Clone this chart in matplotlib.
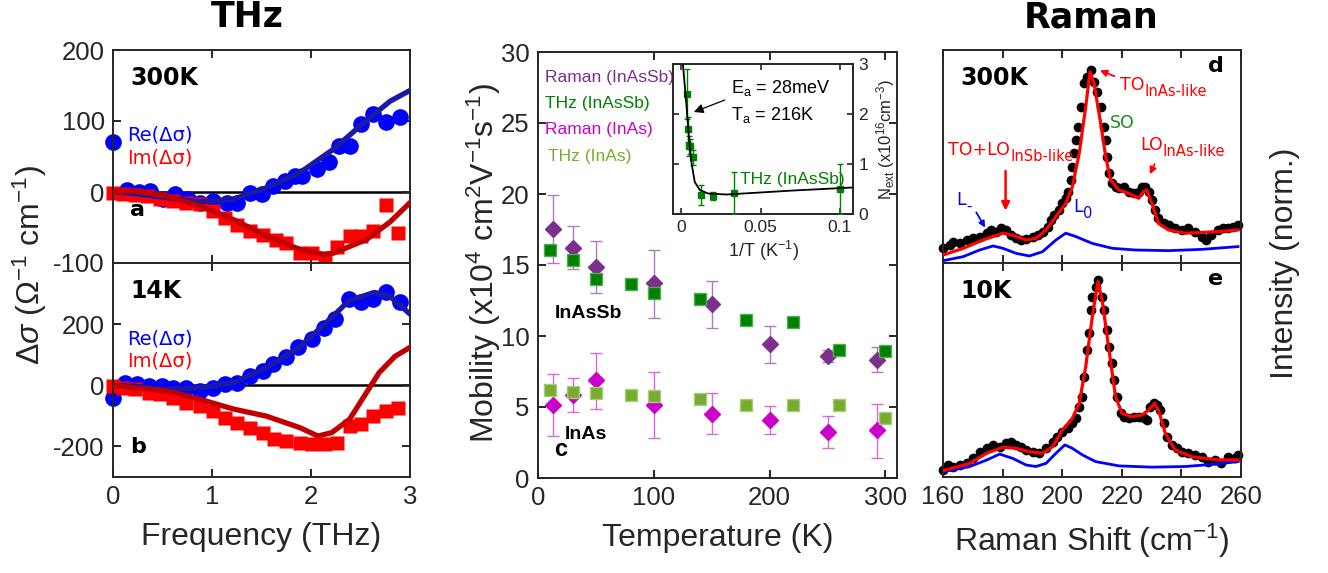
import matplotlib.pyplot as plt
import numpy as np

plt.rcParams['font.family'] = ['Liberation Sans', 'DejaVu Sans']
plt.rcParams['mathtext.fontset'] = 'custom'
plt.rcParams['mathtext.rm'] = 'Liberation Sans'
plt.rcParams['mathtext.it'] = 'Liberation Sans:italic'
plt.rcParams['mathtext.bf'] = 'Liberation Sans:bold'
plt.rcParams['axes.unicode_minus'] = False

FRAME = '#262626'

# ---------------- THz panels (a: 300K, b: 14K) ----------------
re300_f = [0.0, 0.14, 0.26, 0.37, 0.51, 0.63, 0.76, 0.88, 1.01, 1.15, 1.25, 1.38, 1.50,
           1.62, 1.74, 1.84, 1.91, 2.06, 2.18, 2.28, 2.39, 2.51, 2.63, 2.76, 2.90]
re300 = [71, 3, 0.5, 1.4, -10, -3, -10, -15, -13, -15, -15, -1, -3,
         8.5, 15.6, 22.7, 22.7, 32, 41.6, 65, 65, 96, 110, 98, 105]
im300_f = [0.0, 0.10, 0.22, 0.34, 0.47, 0.61, 0.74, 0.88, 1.01, 1.13, 1.25, 1.38, 1.52,
           1.65, 1.75, 1.89, 2.01, 2.14, 2.26, 2.39, 2.51, 2.63, 2.76, 2.88]
im300 = [-2, -3.3, -4.7, -5.4, -9.4, -12.7, -15, -17.5, -27, -36, -46, -55, -60,
         -67, -72, -86, -86, -93, -77, -62, -62, -55, -18, -58]
fit_re300_f = [0.0, 0.21, 0.55, 0.88, 1.22, 1.55, 1.89, 2.23, 2.56, 2.8, 3.0]
fit_re300 = [0, -2, -8, -14, -10, 6, 27.5, 60.6, 100.7, 128, 143]
fit_im300_f = [0.0, 0.21, 0.55, 0.88, 1.22, 1.55, 1.89, 2.13, 2.23, 2.56, 2.8, 3.0]
fit_im300 = [0, 1.4, -6, -20, -39, -62, -81, -88, -86, -67, -42, -15]

re14_f = [0.0, 0.12, 0.24, 0.36, 0.49, 0.61, 0.74, 0.88, 1.01, 1.13, 1.25, 1.38, 1.52,
          1.62, 1.75, 1.87, 2.01, 2.13, 2.24, 2.38, 2.50, 2.63, 2.76, 2.90]
re14 = [-40, 9, 3, -2, -2, -8, -8, -19, -8, 3, 9, 30, 47,
        69, 91, 124, 151, 189, 216, 282, 271, 282, 304, 271]
im14_f = [0.0, 0.10, 0.22, 0.36, 0.47, 0.61, 0.74, 0.88, 1.01, 1.13, 1.25, 1.38, 1.52,
          1.63, 1.75, 1.89, 2.01, 2.14, 2.26, 2.39, 2.51, 2.63, 2.76, 2.88]
im14 = [-2, -8, -13, -24, -30, -40, -57, -68, -84, -106, -122, -139, -155,
        -177, -183, -188, -193, -193, -188, -133, -128, -101, -84, -73]
fit_re14_f = [0.0, 0.21, 0.55, 0.88, 1.22, 1.55, 1.88, 2.21, 2.38, 2.64, 2.8, 3.0]
fit_re14 = [0, -3, -13, -8, 9, 58, 124, 222, 276, 304, 290, 233]
fit_im14_f = [0.0, 0.21, 0.55, 0.88, 1.22, 1.55, 1.89, 2.07, 2.21, 2.39, 2.56, 2.69, 2.85, 3.0]
fit_im14 = [0, -8, -19, -46, -78, -101, -139, -166, -155, -111, -24, 42, 95, 124]

# ---------------- Mobility panel (c) ----------------
T_thz = [10, 30, 50, 80, 100, 140, 180, 220, 260, 300]
mu_thz_sb = [16.04, 15.37, 14.04, 13.69, 13.03, 12.58, 11.11, 10.99, 9.04, 8.94]
mu_thz_as = [6.18, 6.06, 5.99, 5.82, 5.75, 5.59, 5.17, 5.17, 5.12, 4.25]
T_ram = [13, 30, 50, 100, 150, 200, 250, 293]
mu_ram_sb = [17.51, 16.18, 14.86, 13.73, 12.23, 9.42, 8.57, 8.34]
mu_ram_sb_lo = [15.14, 14.70, 13.03, 11.30, 10.59, 8.13, 8.17, 7.44]
mu_ram_sb_hi = [19.96, 17.75, 16.69, 16.08, 13.87, 10.68, 9.03, 9.24]
mu_ram_as = [5.12, 5.82, 6.88, 5.12, 4.54, 4.11, 3.24, 3.36]
mu_ram_as_lo = [2.96, 4.65, 4.84, 2.85, 3.13, 3.13, 2.14, 1.44]
mu_ram_as_hi = [7.35, 7.07, 8.83, 7.46, 5.99, 5.07, 4.35, 5.24]

# inset: carrier density vs 1/T
invT = [0.00333, 0.00385, 0.00455, 0.00556, 0.00714, 0.0125, 0.02, 0.0333, 0.1]
n_ext = [2.41, 1.70, 1.37, 1.36, 1.14, 0.38, 0.36, 0.42, 0.51]
n_err = [0.5, 0.25, 0.2, 0.15, 0.15, 0.2, 0.08, 0.42, 0.5]
fit_invT = [0.0010, 0.0032, 0.0048, 0.0063, 0.0084, 0.0116, 0.0168, 0.0285, 0.0496, 0.0706, 0.108]
fit_n = [2.98, 2.17, 1.50, 1.04, 0.64, 0.48, 0.41, 0.39, 0.43, 0.47, 0.53]

# ---------------- Raman panels (d: 300K, e: 10K) ----------------
w300 = [160.1, 162.3, 163.4, 165.7, 167.9, 170.1, 172.3, 174.6, 176.2, 177.9, 179.6, 181.2,
        182.9, 184.6, 186.2, 187.9, 190.1, 191.8, 193.4, 195.1, 196.2, 197.3, 199.0, 200.1,
        201.2, 201.8, 202.9, 203.4, 204.0, 204.6, 205.4, 206.2, 207.3, 208.4, 209.6, 210.7,
        211.8, 212.9, 214.0, 214.6, 215.1, 215.7, 216.8, 217.9, 219.0, 220.7, 222.3, 224.0,
        225.7, 226.8, 227.9, 229.0, 230.1, 231.2, 232.3, 234.0, 235.7, 237.9, 240.1, 242.3,
        244.6, 246.8, 248.4, 250.1, 252.3, 254.0, 255.7, 257.3, 259.0]
i300 = [0.069, 0.085, 0.100, 0.092, 0.108, 0.116, 0.124, 0.140, 0.155, 0.147, 0.163, 0.155,
        0.131, 0.116, 0.108, 0.111, 0.124, 0.131, 0.147, 0.171, 0.202, 0.225, 0.249, 0.280,
        0.304, 0.335, 0.390, 0.452, 0.515, 0.577, 0.640, 0.734, 0.843, 0.875, 0.906, 0.851,
        0.804, 0.734, 0.640, 0.577, 0.499, 0.421, 0.374, 0.358, 0.351, 0.358, 0.335, 0.327,
        0.335, 0.358, 0.358, 0.335, 0.296, 0.249, 0.210, 0.186, 0.178, 0.163, 0.155, 0.163,
        0.147, 0.124, 0.108, 0.131, 0.155, 0.163, 0.163, 0.171, 0.178]
fit300_w = [160.1, 166.8, 173.4, 180.1, 183.4, 187.9, 191.2, 194.6, 197.9, 201.2, 203.4, 205.7,
            207.9, 209.3, 210.7, 212.9, 214.6, 216.2, 219.0, 222.3, 225.7, 227.3, 228.4, 230.1,
            232.3, 235.7, 241.2, 252.3, 259.0]
fit300 = [0.038, 0.069, 0.108, 0.140, 0.131, 0.108, 0.116, 0.155, 0.218, 0.280, 0.358, 0.515,
          0.734, 0.898, 0.843, 0.656, 0.499, 0.390, 0.343, 0.327, 0.304, 0.335, 0.343, 0.280,
          0.186, 0.155, 0.140, 0.147, 0.155]
lo300_w = [160.1, 166.8, 172.3, 176.8, 180.1, 184.6, 189.0, 193.4, 197.9, 201.2, 204.6, 210.1,
           216.8, 224.6, 235.7, 246.8, 259.0]
lo300 = [0.011, 0.030, 0.061, 0.080, 0.069, 0.045, 0.033, 0.053, 0.108, 0.140, 0.124, 0.092,
         0.069, 0.061, 0.058, 0.064, 0.077]

w10 = [160.1, 161.8, 163.4, 165.7, 167.9, 170.1, 172.3, 174.6, 176.8, 179.0, 181.2, 182.9,
       184.6, 186.2, 187.9, 190.1, 192.3, 194.6, 196.8, 198.4, 200.1, 201.8, 203.4, 204.6,
       205.7, 206.6, 207.3, 208.4, 209.0, 209.6, 210.1, 211.2, 212.1, 213.2, 214.0, 215.1,
       215.7, 216.6, 217.3, 218.4, 219.6, 220.7, 222.3, 224.0, 225.7, 227.3, 228.4, 229.6,
       230.7, 231.8, 232.9, 234.0, 235.1, 236.8, 238.4, 240.1, 242.3, 244.6, 246.8, 249.0,
       251.2, 253.4, 255.7, 257.9, 259.0]
i10 = [0.033, 0.056, 0.049, 0.056, 0.064, 0.087, 0.118, 0.134, 0.150, 0.142, 0.157, 0.165,
       0.150, 0.142, 0.126, 0.118, 0.111, 0.134, 0.165, 0.189, 0.212, 0.227, 0.251, 0.274,
       0.329, 0.375, 0.469, 0.593, 0.672, 0.780, 0.843, 0.889, 0.921, 0.843, 0.780, 0.687,
       0.609, 0.531, 0.453, 0.375, 0.297, 0.282, 0.274, 0.282, 0.282, 0.274, 0.266, 0.329,
       0.344, 0.336, 0.313, 0.251, 0.189, 0.150, 0.134, 0.118, 0.111, 0.103, 0.095, 0.072,
       0.080, 0.064, 0.095, 0.087, 0.103]
fit10_w = [160.1, 169.0, 174.6, 180.1, 184.6, 189.0, 193.4, 196.8, 200.1, 203.4, 205.7, 207.9,
           210.1, 212.0, 213.4, 215.7, 217.9, 220.1, 223.4, 226.8, 229.0, 231.0, 232.3, 234.6,
           237.9, 243.4, 252.3, 259.0]
fit10 = [0.030, 0.064, 0.111, 0.139, 0.134, 0.118, 0.111, 0.142, 0.220, 0.274, 0.344, 0.516,
         0.749, 0.913, 0.827, 0.593, 0.375, 0.297, 0.282, 0.290, 0.313, 0.344, 0.313, 0.204,
         0.126, 0.095, 0.080, 0.080]
lo10_w = [160.1, 169.0, 174.6, 179.0, 183.4, 187.9, 191.2, 194.6, 197.9, 200.9, 203.4, 206.8,
          211.2, 219.0, 230.1, 241.2, 252.3, 259.0]
lo10 = [0.025, 0.049, 0.079, 0.107, 0.087, 0.056, 0.049, 0.064, 0.111, 0.150, 0.134, 0.103,
        0.072, 0.052, 0.046, 0.049, 0.061, 0.072]

W, H = 1328, 573
fig = plt.figure(figsize=(W / 100, H / 100), dpi=100)
LABEL = 23
TICK = 18.5


def box(px_left, px_top, px_right, px_bottom):
    return [px_left / W, 1 - px_bottom / H, (px_right - px_left) / W, (px_bottom - px_top) / H]


def style(ax, size=TICK):
    for s in ax.spines.values():
        s.set_linewidth(1.4)
        s.set_color(FRAME)
    ax.tick_params(direction='in', length=6, width=1.4, colors=FRAME, labelcolor=FRAME,
                   top=True, right=True, labelsize=size, pad=6)


def sub_label(ax, x, y, main, sub, color, size, transform):
    t = ax.text(x, y, main, color=color, fontsize=size, transform=transform,
                ha='left', va='center', family='DejaVu Sans')
    ax.annotate(sub, xy=(1, 0.12), xycoords=t, ha='left', va='center', color=color,
                fontsize=size * 0.85, family='DejaVu Sans')
    return t


# ---- THz panels ----
ax_a = fig.add_axes(box(113, 50, 410, 263))
ax_b = fig.add_axes(box(113, 263, 410, 477))
panels = [(ax_a, re300_f, re300, im300_f, im300, fit_re300_f, fit_re300, fit_im300_f, fit_im300,
           (-100, 200), [-100, 0, 100, 200], '300K', 'a', 0.60, 0.493),
          (ax_b, re14_f, re14, im14_f, im14, fit_re14_f, fit_re14, fit_im14_f, fit_im14,
           (-300, 400), [-200, 0, 200], '14K', 'b', 0.645, 0.542)]
for (ax, rf, rv, imf, imv, frf, frv, fif, fiv, yl, yt, temp, lab, yre, yim) in panels:
    style(ax)
    ax.axhline(0, color='black', lw=1.8, zorder=1)
    ax.plot(rf, rv, 'o', color='#0000FF', ms=12, mec='none', clip_on=False, zorder=2)
    ax.plot(imf, imv, 's', color='#FF0000', ms=9.5, mec='none', clip_on=False, zorder=2)
    ax.plot(frf, frv, '-', color='#1A1AA6', lw=3.8, zorder=3)
    ax.plot(fif, fiv, '-', color='#C00000', lw=3.8, zorder=3)
    ax.set_xlim(0, 3)
    ax.set_ylim(*yl)
    ax.set_yticks(yt)
    ax.set_xticks([0, 1, 2, 3])
    ax.text(0.057, 0.87, temp, transform=ax.transAxes, fontsize=17, fontweight='bold',
            family='DejaVu Sans', va='center')
    ax.text(0.057, 0.25 if lab == 'a' else 0.14, lab, transform=ax.transAxes, fontsize=16,
            fontweight='bold', family='DejaVu Sans', va='center')
    ax.text(0.047, yre, 'Re(Δσ)', transform=ax.transAxes, color='#0000FF', fontsize=14,
            family='DejaVu Sans', va='center')
    ax.text(0.047, yim, 'Im(Δσ)', transform=ax.transAxes, color='#FF0000', fontsize=14,
            family='DejaVu Sans', va='center')
ax_a.tick_params(labelbottom=False)
ax_b.set_xlabel('Frequency (THz)', fontsize=LABEL, color=FRAME, labelpad=9)
fig.text(30 / W, 1 - 265 / H, r'$\Delta\sigma$ ($\Omega^{-1}$ cm$^{-1}$)', rotation=90,
         fontsize=LABEL, color=FRAME, ha='center', va='center')
fig.text(247 / W, 1 - 17 / H, 'THz', fontsize=25, fontweight='bold', family='DejaVu Sans',
         ha='center', va='center')

# ---- Mobility panel ----
PURPLE, DGREEN, MAGENTA, LGREEN = '#7E2F8E', '#008000', '#CC00CC', '#77AC30'
ax_c = fig.add_axes(box(538, 52, 897, 478))
style(ax_c)
sb_lo = np.array(mu_ram_sb) - np.array(mu_ram_sb_lo)
sb_hi = np.array(mu_ram_sb_hi) - np.array(mu_ram_sb)
as_lo = np.array(mu_ram_as) - np.array(mu_ram_as_lo)
as_hi = np.array(mu_ram_as_hi) - np.array(mu_ram_as)
ax_c.errorbar(T_ram, mu_ram_sb, yerr=[sb_lo, sb_hi], fmt='D', color=PURPLE, ms=8.5, mec=PURPLE,
              ecolor='#B07BBE', elinewidth=1, capsize=4, clip_on=False, zorder=3)
ax_c.errorbar(T_thz, mu_thz_sb, yerr=0.3, fmt='s', color=DGREEN, ms=8, mec='#4FAF4F',
              ecolor=DGREEN, elinewidth=1, capsize=4, clip_on=False, zorder=3)
ax_c.errorbar(T_ram, mu_ram_as, yerr=[as_lo, as_hi], fmt='D', color=MAGENTA, ms=8.5, mec=MAGENTA,
              ecolor='#DD66DD', elinewidth=1, capsize=4, clip_on=False, zorder=3)
ax_c.errorbar(T_thz, mu_thz_as, yerr=0.25, fmt='s', color=LGREEN, ms=8, mec='#A5CC7A',
              ecolor=LGREEN, elinewidth=1, capsize=4, clip_on=False, zorder=3)
ax_c.set_xlim(0, 310)
ax_c.set_ylim(0, 30)
ax_c.set_xticks([0, 100, 200, 300])
ax_c.set_yticks(range(0, 31, 5))
ax_c.set_xlabel('Temperature (K)', fontsize=LABEL, color=FRAME, labelpad=9)
fig.text(484 / W, 1 - 263 / H, r'Mobility (x10$^4$ cm$^2$V$^{-1}$s$^{-1}$)', rotation=90,
         fontsize=LABEL, color=FRAME, ha='center', va='center')
for txt, col, yy, xx in [('Raman (InAsSb)', PURPLE, 0.941, 0.02), ('THz (InAsSb)', DGREEN, 0.880, 0.02),
                         ('Raman (InAs)', MAGENTA, 0.817, 0.02), ('THz (InAs)', LGREEN, 0.754, 0.028)]:
    ax_c.text(xx, yy, txt, color=col, fontsize=12.5, transform=ax_c.transAxes, va='center')
ax_c.text(0.047, 0.387, 'InAsSb', fontsize=14, fontweight='bold', transform=ax_c.transAxes,
          va='center')
ax_c.text(0.075, 0.102, 'InAs', fontsize=14, fontweight='bold', transform=ax_c.transAxes,
          va='center')
ax_c.text(0.045, 0.068, 'c', fontsize=17, fontweight='bold', transform=ax_c.transAxes,
          va='center')

# inset
ax_in = fig.add_axes(box(673, 64, 853, 214))
style(ax_in, size=12.5)
ax_in.tick_params(length=4, width=1.2, labelleft=False, labelright=True, pad=4)
ax_in.errorbar(invT, n_ext, yerr=n_err, fmt='s', color=DGREEN, ms=5, ecolor=DGREEN,
               elinewidth=1, capsize=2.5, zorder=3)
ax_in.plot(fit_invT, fit_n, '-', color='black', lw=1.3, zorder=4)
ax_in.set_xlim(-0.0053, 0.1082)
ax_in.set_ylim(0, 2.98)
ax_in.set_xticks([0, 0.05, 0.1])
ax_in.set_xticklabels(['0', '0.05', '0.1'])
ax_in.set_yticks([0, 1, 2, 3])
ax_in.set_xlabel(r'1/T (K$^{-1}$)', fontsize=13, color=FRAME, labelpad=3)
ax_in.yaxis.set_label_position('right')
ax_in.set_ylabel(r'N$_{\mathregular{ext}}$ (x10$^{16}$cm$^{-3}$)', fontsize=12, color=FRAME,
                 labelpad=4)
ax_in.text(0.32, 0.84, r'E$_{\mathregular{a}}$ = 28meV', transform=ax_in.transAxes, fontsize=13,
           va='center')
ax_in.text(0.32, 0.66, r'T$_{\mathregular{a}}$ = 216K', transform=ax_in.transAxes, fontsize=13,
           va='center')
ax_in.annotate('', xy=(0.0062, 2.02), xytext=(0.029, 2.3),
               arrowprops=dict(arrowstyle='-|>', color='black', lw=0.9, mutation_scale=14))
ax_in.text(0.37, 0.23, 'THz (InAsSb)', color=DGREEN, fontsize=12.5, transform=ax_in.transAxes,
           va='center')

# ---- Raman panels ----
ax_d = fig.add_axes(box(943, 50, 1241, 263))
ax_e = fig.add_axes(box(943, 263, 1241, 477))
for ax, w, it, fw, fv, lw_, lv, temp, lab in [(ax_d, w300, i300, fit300_w, fit300, lo300_w, lo300, '300K', 'd'),
                                              (ax_e, w10, i10, fit10_w, fit10, lo10_w, lo10, '10K', 'e')]:
    style(ax)
    ax.plot(w, it, 'o', color='black', ms=7, mec='none', clip_on=False, zorder=2)
    ax.plot(lw_, lv, '-', color='#0000FF', lw=2.0, zorder=3)
    ax.plot(fw, fv, '-', color='#FF0000', lw=2.3, zorder=4)
    ax.set_xlim(160, 260)
    ax.set_ylim(0, 1)
    ax.set_xticks(range(160, 261, 20))
    ax.set_yticks([])
    ax.text(0.057, 0.87, temp, transform=ax.transAxes, fontsize=17, fontweight='bold',
            family='DejaVu Sans', va='center')
    ax.text(0.915, 0.925, lab, transform=ax.transAxes, fontsize=16, fontweight='bold',
            family='DejaVu Sans', va='center', ha='center')
ax_d.tick_params(labelbottom=False)
ax_e.set_xlabel(r'Raman Shift (cm$^{-1}$)', fontsize=LABEL, color=FRAME, labelpad=9)
fig.text(1285 / W, 1 - 263 / H, 'Intensity (norm.)', rotation=90, fontsize=LABEL, color=FRAME,
         ha='center', va='center')
fig.text(1091 / W, 1 - 17 / H, 'Raman', fontsize=25, fontweight='bold', family='DejaVu Sans',
         ha='center', va='center')

RED, BLUE = '#FF0000', '#0000FF'
tr = ax_d.transAxes
sub_label(ax_d, 0.594, 0.836, 'TO', 'InAs-like', RED, 12.5, tr)
ax_d.annotate('', xy=(211.8, 0.909), xytext=(218.4, 0.872),
              arrowprops=dict(arrowstyle='-|>', color=RED, lw=1.3, mutation_scale=10))
ax_d.text(0.6, 0.656, 'SO', color='#1A8A1A', fontsize=12.5, family='DejaVu Sans', transform=tr,
          ha='center', va='center')
sub_label(ax_d, 0.661, 0.554, 'LO', 'InAs-like', RED, 12.5, tr)
ax_d.annotate('', xy=(229.0, 0.405), xytext=(231.4, 0.476),
              arrowprops=dict(arrowstyle='-|>', color=RED, lw=1.3, mutation_scale=10))
sub_label(ax_d, 0.018, 0.531, 'TO+LO', 'InSb-like', RED, 12.5, tr)
ax_d.annotate('', xy=(181.0, 0.233), xytext=(181.0, 0.445),
              arrowprops=dict(arrowstyle='-|>', color=RED, lw=1.8, mutation_scale=12))
sub_label(ax_d, 0.046, 0.296, 'L', '-', BLUE, 12.5, tr)
ax_d.annotate('', xy=(174.6, 0.155), xytext=(170.7, 0.249),
              arrowprops=dict(arrowstyle='-|>', color=BLUE, lw=1.3, mutation_scale=9))
sub_label(ax_d, 0.437, 0.264, 'L', '0', BLUE, 12.5, tr)

fig.savefig('out.png', dpi=100)
